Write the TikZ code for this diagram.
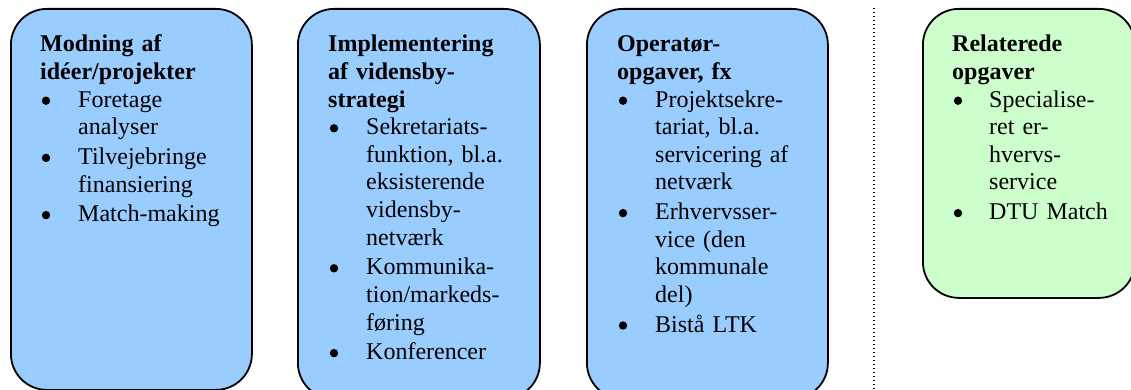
\documentclass[tikz,border=0pt]{standalone}
\usepackage{fontspec}
\setmainfont{Liberation Serif}
\begin{document}
\begin{tikzpicture}[x=1pt,y=-1pt,
  panel/.style={draw=black,line width=1.8pt,rounded corners=36pt,inner sep=0pt,anchor=north west},
  bluepanel/.style={panel,fill=blueA},
  greenpanel/.style={panel,fill=greenA},
  txt/.style={inner sep=0pt,anchor=base west,align=left,text width=#1,
    font=\fontsize{24}{27.6}\selectfont},
  txt/.default=200pt,
  head/.style={txt=#1,font=\fontsize{24}{27.6}\selectfont\bfseries},
  head/.default=200pt,
  dot/.style={circle,fill=black,inner sep=0pt,minimum size=8.4pt,yshift=6.5pt,xshift=6pt}
]
\definecolor{blueA}{HTML}{99CCFF}
\definecolor{greenA}{HTML}{CCFFCC}
\useasboundingbox (0,0) rectangle (1131,390);
\clip (0,0) rectangle (1131,390);

% panels
\node[bluepanel,minimum width=241pt,minimum height=381pt] (p1) at (10,8) {};
\node[bluepanel,minimum width=242pt,minimum height=390pt] (p2) at (297,8) {};
\node[bluepanel,minimum width=241pt,minimum height=390pt] (p3) at (586,8) {};
\node[greenpanel,minimum width=212pt,minimum height=289pt] (p4) at (922,8) {};

% separator
\coordinate (s1) at (874,8);
\coordinate (s2) at (874,392);
\draw[line width=1.2pt,dash pattern=on 1.4pt off 2.6pt] (s1) -- (s2);

% panel 1
\node[head] (h1) at (40,52) {Modning af\\idéer/projekter};
\node[dot] (d11) at (40,107.2) {};
\node[txt] (t11) at (78,107.2) {Foretage\\analyser};
\node[dot] (d12) at (40,164.4) {};
\node[txt] (t12) at (78,164.4) {Tilvejebringe\\finansiering};
\node[dot] (d13) at (40,221.6) {};
\node[txt] (t13) at (78,221.6) {Match-making};

% panel 2
\node[head] (h2) at (328,52) {Implementering\\af vidensby-\\strategi};
\node[dot] (d21) at (328,134.8) {};
\node[txt] (t21) at (366,134.8) {Sekretariats-\\funktion, bl.a.\\eksisterende\\vidensby-\\netværk};
\node[dot] (d22) at (328,274.8) {};
\node[txt] (t22) at (366,274.8) {Kommunika-\\tion/markeds-\\føring};
\node[dot] (d23) at (328,359.6) {};
\node[txt] (t23) at (366,359.6) {Konferencer};

% panel 3
\node[head] (h3) at (617,52) {Operatør-\\opgaver, fx};
\node[dot] (d31) at (617,107.2) {};
\node[txt] (t31) at (655,107.2) {Projektsekre-\\tariat, bl.a.\\servicering af\\netværk};
\node[dot] (d32) at (617,219.6) {};
\node[txt] (t32) at (655,219.6) {Erhvervsser-\\vice (den\\kommunale\\del)};
\node[dot] (d33) at (617,332) {};
\node[txt] (t33) at (655,332) {Bistå LTK};

% panel 4
\node[head] (h4) at (952,52) {Relaterede\\opgaver};
\node[dot] (d41) at (952,107.2) {};
\node[txt] (t41) at (989,107.2) {Specialise-\\ret er-\\hvervs-\\service};
\node[dot] (d42) at (952,219.6) {};
\node[txt] (t42) at (989,219.6) {DTU Match};
\end{tikzpicture}
\end{document}
